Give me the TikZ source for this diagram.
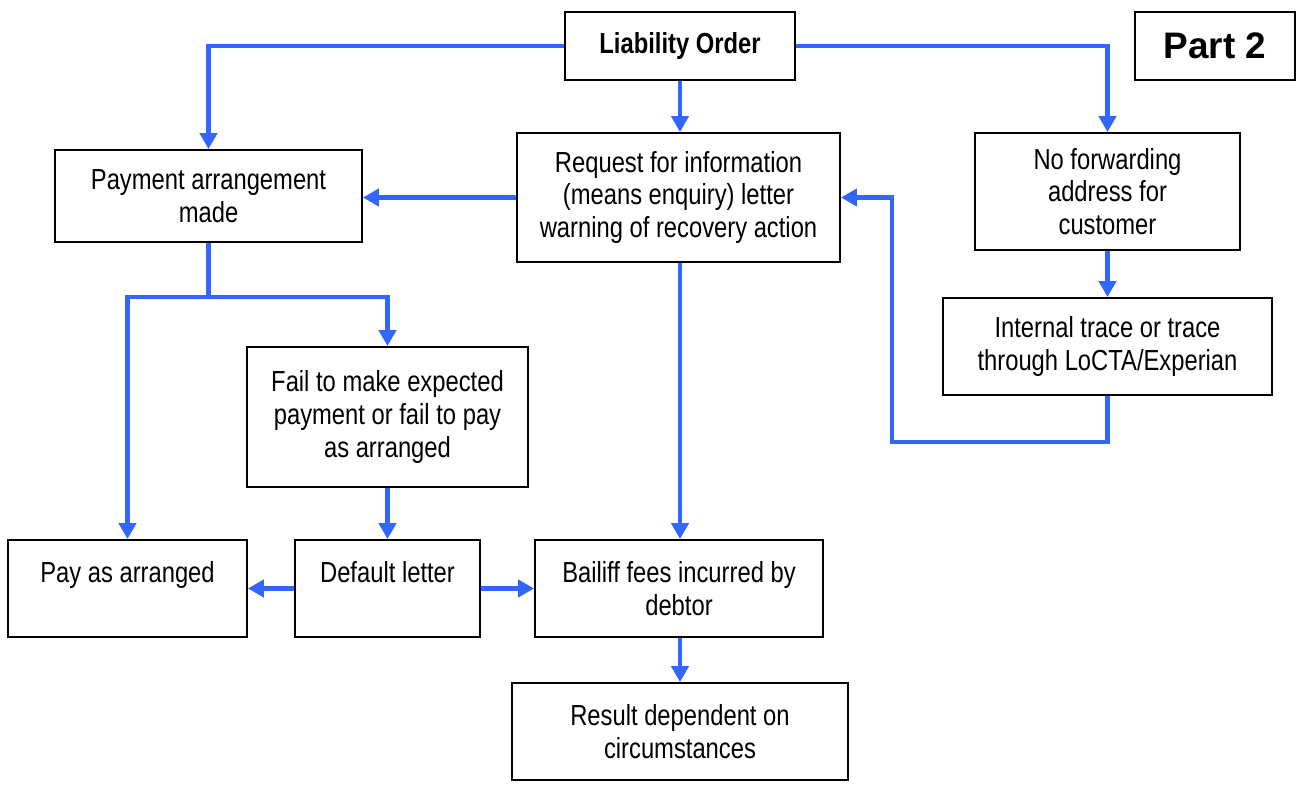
\documentclass[tikz,border=0pt]{standalone}
\usepackage{fontspec}
\setmainfont{Liberation Sans}[FakeStretch=0.82]
\newfontfamily\partfont{Liberation Sans}
\usetikzlibrary{arrows.meta}
\definecolor{flowblue}{RGB}{51,102,255}
\begin{document}
\begin{tikzpicture}[x=0.02cm,y=-0.02cm,
  box/.style 2 args={draw=black, line width=1pt, fill=white, align=center,
    minimum width=#1*0.02cm, minimum height=#2*0.02cm, inner sep=2pt,
    font=\fontsize{16.5}{18.7}\selectfont},
  conn/.style={draw=flowblue, line width=2.3pt,
    -{Triangle[length=0.32cm,width=0.34cm]}},
  line/.style={draw=flowblue, line width=2.3pt}]
\useasboundingbox (0,0) rectangle (1302,787);
\node[box={230}{68}] (lo) at (680,46) {\bfseries Liability Order};
\node[box={160}{68}, font=\partfont\bfseries\fontsize{21}{25}\selectfont] (part) at (1215,46) {Part 2};
\node[box={323}{129}] (req) at (678.5,197.5) {Request for information\\(means enquiry) letter\\warning of recovery action};
\node[box={307}{92}] (pay) at (208.5,196) {Payment arrangement\\made};
\node[box={265}{117}] (nofw) at (1107.5,191.5) {No forwarding\\address for\\customer};
\node[box={329}{97}] (trace) at (1107.5,346.5) {Internal trace or trace\\through LoCTA/Experian};
\node[box={281}{140}] (fail) at (387.5,417) {Fail to make expected\\payment or fail to pay\\as arranged};
\node[box={239}{97}] (payas) at (127.5,588.5) {Pay as arranged\\~};
\node[box={185}{97}] (deflt) at (387.5,588.5) {Default letter\\~};
\node[box={288}{97}] (bail) at (679,588.5) {Bailiff fees incurred by\\debtor};
\node[box={336}{97}] (res) at (680,731.5) {Result dependent on\\circumstances};
\coordinate (split) at (208.5,297);
\coordinate (loop) at (892,442);
\draw[conn] (lo.west) -| (pay.north);
\draw[conn] (lo.south) -- (lo.south |- req.north);
\draw[conn] (lo.east) -| (nofw.north);
\draw[conn] (req.west) -- (req.west -| pay.east);
\draw[line] (pay.south) -- (split);
\draw[conn] (split) -| (fail.north);
\draw[conn] (split) -| (payas.north);
\draw[conn] (req.south -| lo.south) -- (lo.south |- bail.north);
\draw[conn] (nofw.south) -- (trace.north);
\draw[conn] (trace.south) |- (loop) |- (req.east);
\draw[conn] (fail.south) -- (deflt.north);
\draw[conn] (deflt.west) -- (payas.east);
\draw[conn] (deflt.east) -- (bail.west);
\draw[conn] (bail.south -| lo.south) -- (lo.south |- res.north);
\end{tikzpicture}
\end{document}
